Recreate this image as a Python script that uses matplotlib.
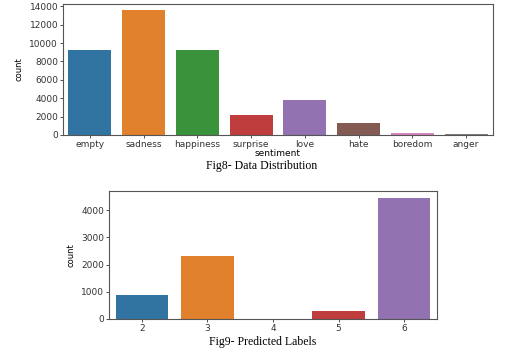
import matplotlib.pyplot as plt

# Fig8 data
sentiments = ["empty", "sadness", "happiness", "surprise", "love", "hate", "boredom", "anger"]
sentiment_counts = [9300, 13560, 9240, 2180, 3860, 1310, 190, 110]

# Fig9 data
pred_labels = ["2", "3", "4", "5", "6"]
pred_counts = [890, 2335, 0, 280, 4465]

colors = ["#3274a1", "#e1812c", "#3a923a", "#c03d3e", "#9372b2", "#845b53", "#d684bd", "#7f7f7f"]

fig = plt.figure(figsize=(5.07, 3.58), dpi=100)
W, H = 507, 358

def style(ax):
    for s in ax.spines.values():
        s.set_color("#555555")
        s.set_linewidth(0.8)
    ax.tick_params(labelsize=6.5, length=2.5, width=0.6, pad=1, colors="#333333")

# top chart
ax1 = fig.add_axes([63 / W, 1 - 135 / H, (493 - 63) / W, (135 - 4) / H])
ax1.bar(range(len(sentiments)), sentiment_counts, width=0.8, color=colors)
ax1.set_xlim(-0.5, len(sentiments) - 0.5)
ax1.set_ylim(0, 14250)
ax1.set_yticks(range(0, 14001, 2000))
ax1.set_xticks(range(len(sentiments)))
ax1.set_xticklabels(sentiments)
ax1.set_ylabel("count", fontsize=6, labelpad=4)
ax1.set_xlabel("sentiment", fontsize=6.5, labelpad=0)
style(ax1)

fig.text(262 / W, 1 - 166 / H, "Fig8- Data Distribution", ha="center", va="center",
         fontsize=8.5, family="Liberation Serif")

# bottom chart
ax2 = fig.add_axes([109 / W, 1 - 319 / H, (437 - 109) / W, (319 - 191) / H])
ax2.bar(range(len(pred_labels)), pred_counts, width=0.8, color=[colors[i] for i in range(5)])
ax2.set_xlim(-0.5, len(pred_labels) - 0.5)
ax2.set_ylim(0, 4710)
ax2.set_yticks(range(0, 4001, 1000))
ax2.set_xticks(range(len(pred_labels)))
ax2.set_xticklabels(pred_labels)
ax2.set_ylabel("count", fontsize=6, labelpad=4)
style(ax2)

fig.text(263 / W, 1 - 342 / H, "Fig9- Predicted Labels", ha="center", va="center",
         fontsize=8.5, family="Liberation Serif")

fig.savefig("out.png", dpi=100)
